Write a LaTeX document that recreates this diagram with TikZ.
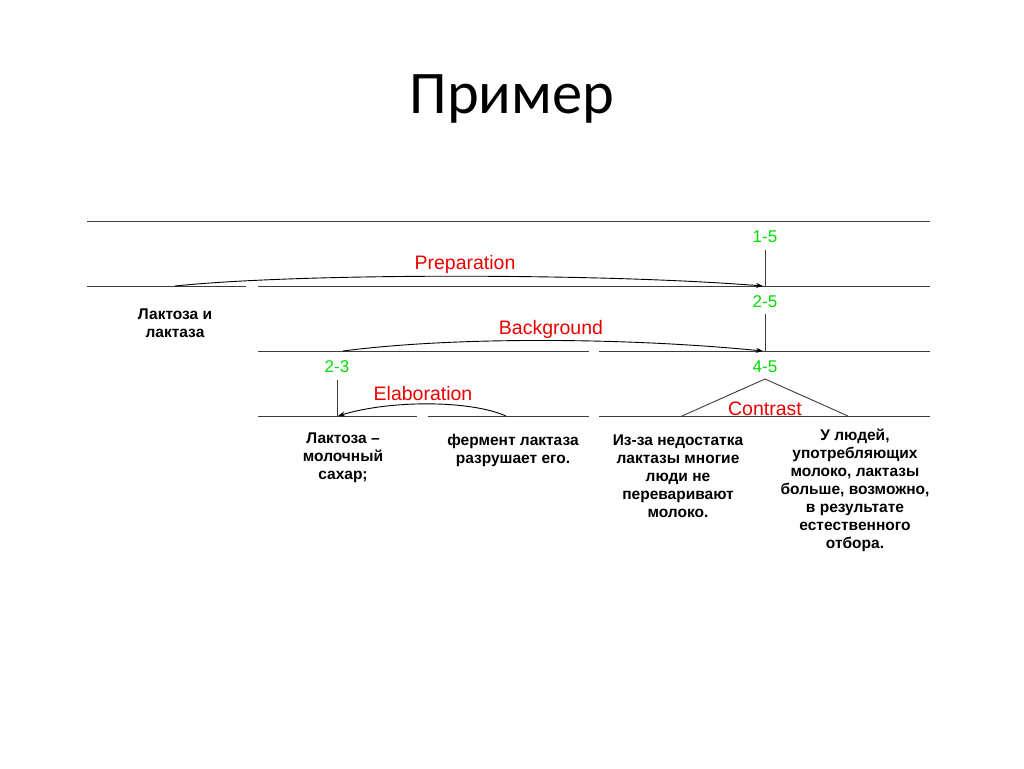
\documentclass[tikz,border=0pt]{standalone}
\usepackage{fontspec}
\setmainfont{Liberation Sans}
\newfontfamily\titlefont{Carlito}
\usetikzlibrary{arrows.meta}
\definecolor{relred}{RGB}{235,0,0}
\definecolor{spangreen}{RGB}{0,220,0}
\definecolor{linegray}{RGB}{60,60,60}
\tikzset{
  rule/.style={draw=linegray, line width=1pt},
  arc/.style={draw=black, line width=0.9pt, -{Stealth[length=7pt,width=5pt]}},
  rel/.style={text=relred, font=\fontsize{19.5}{22}\selectfont, inner sep=0pt},
  span/.style={text=spangreen, font=\fontsize{17}{20}\selectfont, inner sep=0pt},
  edu/.style={text=black, font=\bfseries\fontsize{15.5}{18}\selectfont, align=center, inner sep=0pt},
}
\begin{document}
\begin{tikzpicture}[x=1pt,y=-1pt]
\useasboundingbox (0,0) rectangle (1024,768);
\node[font=\titlefont\fontsize{60.5}{70}\selectfont] (title) at (512,99) {Пример};

% horizontal rules
\coordinate (r1a) at (87,221); \coordinate (r1b) at (930,221);
\draw[rule] (r1a) -- (r1b);
\coordinate (r2a) at (87,286); \coordinate (r2b) at (246,286);
\coordinate (r2c) at (258,286); \coordinate (r2d) at (930,286);
\draw[rule] (r2a) -- (r2b); \draw[rule] (r2c) -- (r2d);
\coordinate (r3a) at (258,351); \coordinate (r3b) at (589,351);
\coordinate (r3c) at (599,351); \coordinate (r3d) at (930,351);
\draw[rule] (r3a) -- (r3b); \draw[rule] (r3c) -- (r3d);
\coordinate (r4a) at (258,416); \coordinate (r4b) at (417,416);
\coordinate (r4c) at (428,416); \coordinate (r4d) at (589,416);
\coordinate (r4e) at (599,416); \coordinate (r4f) at (930,416);
\draw[rule] (r4a) -- (r4b); \draw[rule] (r4c) -- (r4d); \draw[rule] (r4e) -- (r4f);

% span labels
\node[span] (s15) at (765,237) {1-5};
\node[span] (s25) at (765,302) {2-5};
\node[span] (s45) at (765,367) {4-5};
\node[span] (s23) at (337,367) {2-3};

% verticals
\coordinate (v1t) at (765,250); \coordinate (v1b) at (765,286);
\draw[rule] (v1t) -- (v1b);
\coordinate (v2t) at (765,314); \coordinate (v2b) at (765,351);
\draw[rule] (v2t) -- (v2b);
\coordinate (v3t) at (337,380); \coordinate (v3b) at (337,416);
\draw[rule] (v3t) -- (v3b);

% contrast triangle
\coordinate (apex) at (765,379);
\coordinate (cl) at (682,416); \coordinate (cr) at (848,416);
\draw[rule, line width=0.9pt] (cl) -- (apex) -- (cr);

% relation arcs
\coordinate (p1) at (175,286); \coordinate (p2) at (763,286);
\draw[arc] (p1) .. controls (300,273) and (600,273) .. (p2);
\coordinate (b1) at (343,351); \coordinate (b2) at (763,351);
\draw[arc] (b1) .. controls (450,337) and (620,337) .. (b2);
\coordinate (e1) at (506,416); \coordinate (e2) at (338,416);
\draw[arc] (e1) .. controls (470,400) and (390,400) .. (e2);

% relation names
\node[rel] (prep) at (465,264) {Preparation};
\node[rel] (back) at (551,329) {Background};
\node[rel] (elab) at (423,394) {Elaboration};
\node[rel] (contr) at (765,409) {Contrast};

% EDUs
\node[edu] (u1) at (175,323) {Лактоза и\\лактаза};
\node[edu] (u2) at (343,458) {Лактоза –\\молочный\\сахар;};
\node[edu] (u3) at (513,450) {фермент лактаза\\разрушает его.};
\node[edu] (u4) at (678,476) {Из-за недостатка\\лактазы многие\\люди не\\переваривают\\молоко.};
\node[edu] (u5) at (855,490) {У людей,\\употребляющих\\молоко, лактазы\\больше, возможно,\\в результате\\естественного\\отбора.};
\end{tikzpicture}
\end{document}
